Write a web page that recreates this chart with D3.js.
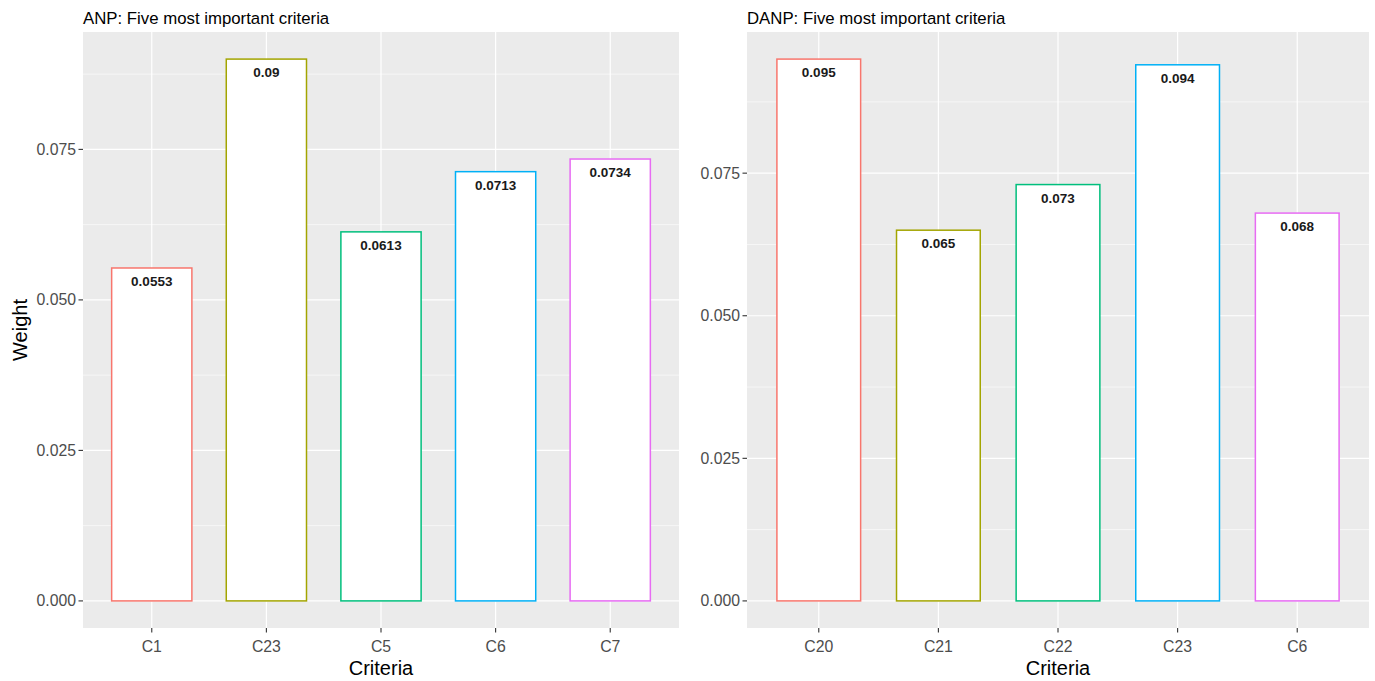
<!DOCTYPE html>
<html><head><meta charset="utf-8">
<script src="https://cdn.jsdelivr.net/npm/d3@7"></script>
<style>body{margin:0;background:#fff}svg{display:block}text{font-family:"Liberation Sans",Arial,sans-serif}</style>
</head><body>
<svg id="c" width="1375" height="681"></svg>
<script>
const anpCategories = ["C1","C23","C5","C6","C7"];
const anpValues = [0.0553,0.09,0.0613,0.0713,0.0734];
const anpLabels = ["0.0553","0.09","0.0613","0.0713","0.0734"];
const danpCategories = ["C20","C21","C22","C23","C6"];
const danpValues = [0.095,0.065,0.073,0.094,0.068];
const danpLabels = ["0.095","0.065","0.073","0.094","0.068"];
const yTicks = [0,0.025,0.05,0.075];
const yMinor = [0.0125,0.0375,0.0625,0.0875];
const colors = ["#F8766D","#A3A500","#00BF7D","#00B0F6","#E76BF3"];

const svg = d3.select("#c");

function panel(opt){
  const {x0,x1,y0,y1,cats,vals,labels,title,yTitle} = opt;
  const vmax = d3.max(vals);
  const y = d3.scaleLinear().domain([-vmax*0.05, vmax*1.05]).range([y1,y0]);
  const n = cats.length;
  const xs = d3.scaleLinear().domain([0.4, n+0.6]).range([x0,x1]);
  const g = svg.append("g");
  g.append("rect").attr("x",x0).attr("y",y0).attr("width",x1-x0).attr("height",y1-y0).attr("fill","#EBEBEB");
  g.selectAll(".mn").data(yMinor.filter(v=>y(v)>=y0&&y(v)<=y1)).enter().append("line")
    .attr("x1",x0).attr("x2",x1).attr("y1",d=>y(d)).attr("y2",d=>y(d)).attr("stroke","#fff").attr("stroke-width",0.6);
  g.selectAll(".mj").data(yTicks).enter().append("line")
    .attr("x1",x0).attr("x2",x1).attr("y1",d=>y(d)).attr("y2",d=>y(d)).attr("stroke","#fff").attr("stroke-width",1.2);
  g.selectAll(".vx").data(cats).enter().append("line")
    .attr("x1",(d,i)=>xs(i+1)).attr("x2",(d,i)=>xs(i+1)).attr("y1",y0).attr("y2",y1).attr("stroke","#fff").attr("stroke-width",1.2);
  const bw = 0.7;
  g.selectAll(".bar").data(vals).enter().append("rect")
    .attr("x",(d,i)=>xs(i+1-bw/2)).attr("width",(d,i)=>xs(i+1+bw/2)-xs(i+1-bw/2))
    .attr("y",d=>y(d)).attr("height",d=>y(0)-y(d))
    .attr("fill","#fff").attr("stroke",(d,i)=>colors[i]).attr("stroke-width",1.5);
  g.selectAll(".lbl").data(vals).enter().append("text")
    .attr("x",(d,i)=>xs(i+1)).attr("y",d=>y(d)+18)
    .attr("text-anchor","middle").attr("font-size",13.5).attr("font-weight","bold").attr("fill","#1a1a1a")
    .text((d,i)=>labels[i]);
  g.selectAll(".yt").data(yTicks).enter().append("line")
    .attr("x1",x0-4.5).attr("x2",x0).attr("y1",d=>y(d)).attr("y2",d=>y(d)).attr("stroke","#333").attr("stroke-width",1.1);
  g.selectAll(".yl").data(yTicks).enter().append("text")
    .attr("x",x0-7).attr("y",d=>y(d)).attr("dy","0.35em").attr("text-anchor","end")
    .attr("font-size",15.8).attr("fill","#4D4D4D").text(d=>d3.format(".3f")(d));
  g.selectAll(".xt").data(cats).enter().append("line")
    .attr("x1",(d,i)=>xs(i+1)).attr("x2",(d,i)=>xs(i+1)).attr("y1",y1).attr("y2",y1+4.5).attr("stroke","#333").attr("stroke-width",1.1);
  g.selectAll(".xl").data(cats).enter().append("text")
    .attr("x",(d,i)=>xs(i+1)).attr("y",y1+18).attr("dy","0.35em").attr("text-anchor","middle")
    .attr("font-size",15.8).attr("fill","#4D4D4D").text(d=>d);
  g.append("text").attr("x",(x0+x1)/2).attr("y",675).attr("text-anchor","middle")
    .attr("font-size",20).attr("fill","#000").text("Criteria");
  g.append("text").attr("x",x0).attr("y",24).attr("font-size",16.8).attr("fill","#000").text(title);
  if(yTitle){
    g.append("text").attr("transform",`translate(27,${(y0+y1)/2}) rotate(-90)`).attr("text-anchor","middle")
      .attr("font-size",20).attr("fill","#000").text(yTitle);
  }
}
panel({x0:83,x1:679,y0:32,y1:628,cats:anpCategories,vals:anpValues,labels:anpLabels,title:"ANP: Five most important criteria",yTitle:"Weight"});
panel({x0:747,x1:1369,y0:32,y1:628,cats:danpCategories,vals:danpValues,labels:danpLabels,title:"DANP: Five most important criteria"});
</script>
</body></html>
